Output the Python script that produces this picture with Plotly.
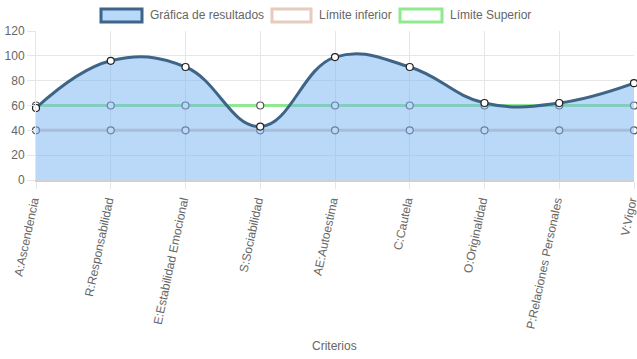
import plotly.graph_objects as go

categorias = ["A:Ascendencia", "R:Responsabilidad", "E:Estabilidad Emocional", "S:Sociabilidad",
              "AE:Autoestima", "C:Cautela", "O:Originalidad", "P:Relaciones Personales", "V:Vigor"]
resultados = [58, 96, 91, 43, 99, 91, 62, 62, 78]
limite_inferior = [40, 40, 40, 40, 40, 40, 40, 40, 40]
limite_superior = [60, 60, 60, 60, 60, 60, 60, 60, 60]
y_ticks = [0, 20, 40, 60, 80, 100, 120]

FONT = "Liberation Sans, Arial, sans-serif"
xi = list(range(len(categorias)))

fig = go.Figure()
fig.add_trace(go.Scatter(x=xi, y=limite_inferior, mode="lines+markers", name="Límite inferior",
                         line=dict(color="rgb(222,200,188)", width=3),
                         marker=dict(size=7, color="white", line=dict(color="#555", width=1.2)),
                         cliponaxis=False))
fig.add_trace(go.Scatter(x=xi, y=limite_superior, mode="lines+markers", name="Límite Superior",
                         line=dict(color="rgb(144,232,144)", width=3),
                         marker=dict(size=7, color="white", line=dict(color="#555", width=1.2)),
                         cliponaxis=False))
fig.add_trace(go.Scatter(x=xi, y=resultados, mode="lines+markers", name="Gráfica de resultados",
                         line=dict(color="#3e6587", width=3, shape="spline", smoothing=1.2),
                         fill="tozeroy", fillcolor="rgba(118,178,240,0.5)",
                         marker=dict(size=7, color="white", line=dict(color="#222", width=1.2)),
                         cliponaxis=False))

W, H = 637, 359
L, R, T, B = 36, 3, 31, 179
pw, ph = W - L - R, H - T - B

def px(x):
    return (x - L) / pw

def py(y):
    return (H - B - y) / ph

legend_items = [
    ("Gráfica de resultados", 100, 143, "rgb(184,218,248)", "#3e6587"),
    ("Límite inferior", 271, 312, "white", "rgb(230,203,191)"),
    ("Límite Superior", 399, 443, "white", "rgb(144,232,144)"),
]
shapes = []
annotations = []
for label, x0, x1, fillc, linec in legend_items:
    shapes.append(dict(type="rect", xref="paper", yref="paper", x0=px(x0 + 1), x1=px(x1 - 1),
                       y0=py(22), y1=py(9), fillcolor=fillc, line=dict(color=linec, width=3), layer="above"))
    annotations.append(dict(text=label, xref="paper", yref="paper", x=px(x1 + 5), y=py(15.5),
                            xanchor="left", yanchor="middle", showarrow=False,
                            font=dict(family=FONT, size=12, color="#666")))

annotations.append(dict(text="Criterios", xref="paper", yref="paper", x=px(334), y=py(346),
                        xanchor="center", yanchor="middle", showarrow=False,
                        font=dict(family=FONT, size=12, color="#666")))

fig.update_layout(
    width=W, height=H, margin=dict(l=L, r=R, t=T, b=B),
    plot_bgcolor="white", paper_bgcolor="white", showlegend=False,
    shapes=shapes, annotations=annotations,
    font=dict(family=FONT, size=12, color="#666"),
    xaxis=dict(range=[0, len(categorias) - 1], tickvals=xi, ticktext=categorias, tickangle=-78,
               automargin=False, ticklabeloverflow="allow", ticklabelshift=-3,
               showgrid=True, gridcolor="#e6e6e6", gridwidth=1, zeroline=False,
               ticks="outside", ticklen=7, tickcolor="#e6e6e6",
               showline=True, linecolor="#d0d0d0", linewidth=2,
               tickfont=dict(family=FONT, size=12, color="#666")),
    yaxis=dict(range=[0, 120], tickvals=y_ticks, showgrid=True, gridcolor="#e6e6e6", zeroline=False,
               automargin=False,
               ticks="outside", ticklen=8, tickcolor="#e6e6e6",
               showline=True, linecolor="#e6e6e6", linewidth=1,
               tickfont=dict(family=FONT, size=12, color="#666")),
)
fig.write_html("out.html", config={"displayModeBar": False},
               post_script="document.body.style.margin='0px';")
